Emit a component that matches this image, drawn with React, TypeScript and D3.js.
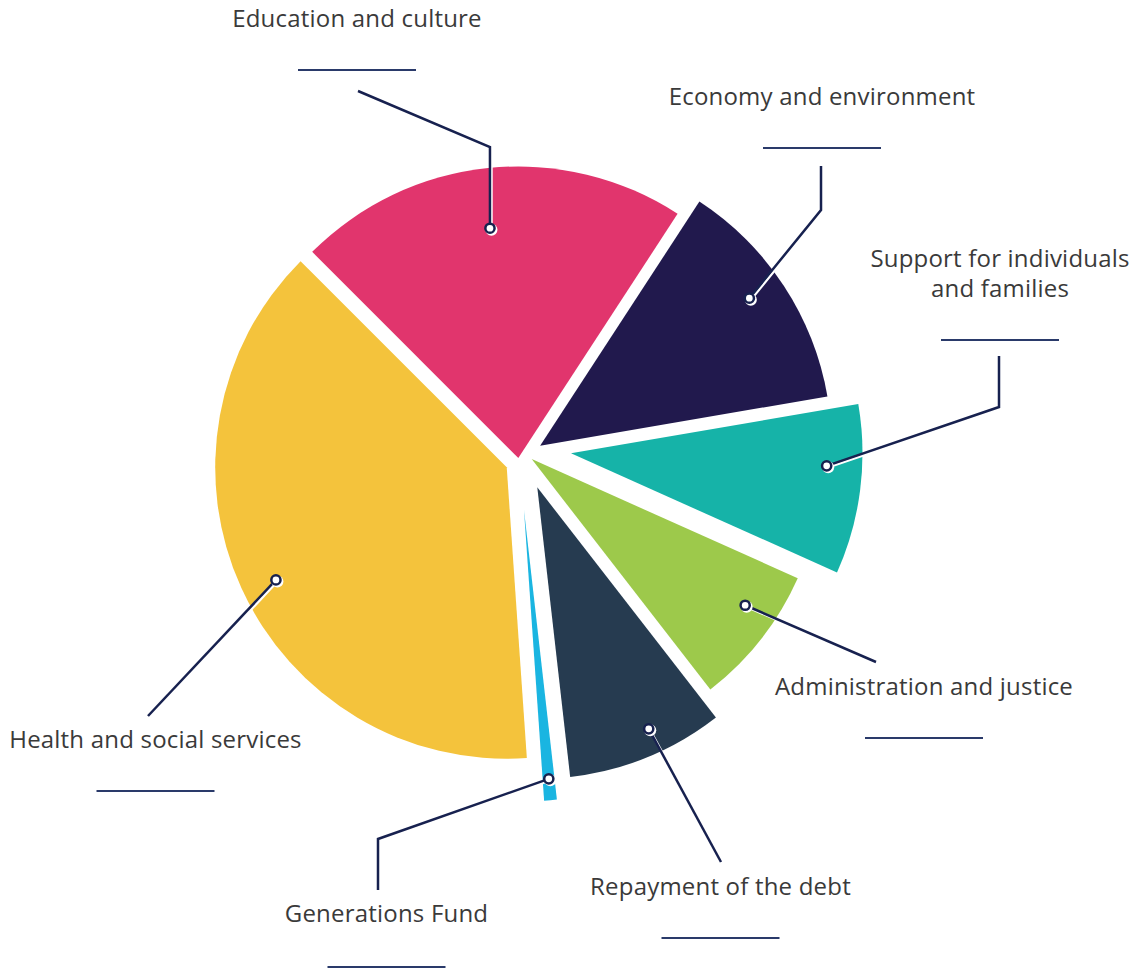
import React from "react";
import * as d3 from "d3";

// ---- Data ----
const categories: string[] = [
  "Education and culture",
  "Economy and environment",
  "Support for individuals and families",
  "Administration and justice",
  "Repayment of the debt",
  "Generations Fund",
  "Health and social services",
];
const shares: number[] = [21.7, 13.1, 9.4, 7.8, 8.7, 0.7, 38.6];
const labelLines: string[][] = [
  ["Education and culture"],
  ["Economy and environment"],
  ["Support for individuals", "and families"],
  ["Administration and justice"],
  ["Repayment of the debt"],
  ["Generations Fund"],
  ["Health and social services"],
];

// ---- Styles / layout ----
const W = 1135;
const H = 968;
const CX = 518;
const CY = 455;
const R = 291.5;
const COLORS = ["#e1356d", "#21194d", "#16b3a8", "#9dc94b", "#263b50", "#1ab5e1", "#f4c33c"];
const NAVY = "#17214f";
const TEXT = "#3a3a3a";
const EXPLODE = [-3, 24, 53, 14.3, 37.6, 55.3, 16.7];
const TILT = [0, 10.5, -9, -21.5, -8.7, -1, -23]; // degrees deviation of explode direction
const MARKER = [
  { f: 0.486, r: 231.5 },
  { f: 0.46, r: 256 },
  { f: 0.37, r: 256 },
  { f: 0.366, r: 258.7 },
  { f: 0.416, r: 266 },
  { f: 0.48, r: 270 },
  { f: 0.489, r: 256.8 },
];
// label: center x, first baseline y, underline y; leader: elbow points (vx = vertical from marker to y)
const LABELS = [
  { x: 357, y: 27, ul: 70, leader: [{ vx: true, y: 147 }, { x: 358, y: 91 }] },
  { x: 822, y: 105, ul: 148, leader: [{ x: 821, y: 210 }, { x: 821, y: 166 }] },
  { x: 1000, y: 267, ul: 340, leader: [{ x: 999, y: 407 }, { x: 999, y: 356 }] },
  { x: 924, y: 695, ul: 738, leader: [{ x: 876, y: 662 }] },
  { x: 720.5, y: 895, ul: 938, leader: [{ x: 721, y: 862 }] },
  { x: 386.5, y: 922, ul: 967, leader: [{ x: 378, y: 839 }, { x: 378, y: 890 }] },
  { x: 155.5, y: 748, ul: 791, leader: [{ x: 148, y: 716 }] },
];
const FONT = "'Open Sans', 'Noto Sans', sans-serif";
const FONT_SIZE = 24;
const LETTER_SPACING = 0.2;
const LINE_GAP = 30;
const UL_W = 118;

export default function App() {
  const pie = d3
    .pie<number>()
    .sort(null)
    .value((d) => d)
    .startAngle(-Math.PI / 4)
    .endAngle(2 * Math.PI - Math.PI / 4);
  const arcs = pie(shares);
  const arcGen = d3.arc<d3.PieArcDatum<number>>().innerRadius(0).outerRadius(R);

  const slices = arcs.map((a, i) => {
    const mid = (a.startAngle + a.endAngle) / 2 + (TILT[i] * Math.PI) / 180;
    const dx = EXPLODE[i] * Math.sin(mid);
    const dy = -EXPLODE[i] * Math.cos(mid);
    const ox = CX + dx;
    const oy = CY + dy;
    const ma = a.startAngle + (a.endAngle - a.startAngle) * MARKER[i].f;
    const mx = ox + MARKER[i].r * Math.sin(ma);
    const my = oy - MARKER[i].r * Math.cos(ma);
    return { a, ox, oy, mx, my };
  });

  const lineGen = d3.line<[number, number]>();

  const leaders = slices.map((s, i) => {
    const pts: [number, number][] = [[s.mx, s.my]];
    LABELS[i].leader.forEach((p: any) => {
      if (p.vx) pts.push([s.mx, p.y]);
      else pts.push([p.x, p.y]);
    });
    return lineGen(pts) as string;
  });

  return (
    <svg
      width={W}
      height={H}
      viewBox={`0 0 ${W} ${H}`}
      style={{ position: "absolute", left: 0, top: 0, background: "#fff" }}
    >
      <g>
        {slices.map((s, i) => (
          <path
            key={categories[i]}
            d={arcGen(s.a) as string}
            transform={`translate(${s.ox},${s.oy})`}
            fill={COLORS[i]}
          />
        ))}
      </g>
      <g fill="none" strokeLinejoin="miter">
        {leaders.map((d, i) => (
          <path key={"sh" + i} d={d} stroke="#ffffff" strokeWidth={2.5} transform="translate(1.5,1.5)" />
        ))}
        {leaders.map((d, i) => (
          <path key={"ld" + i} d={d} stroke={NAVY} strokeWidth={2.5} />
        ))}
      </g>
      <g>
        {slices.map((s, i) => (
          <g key={"m" + i}>
            <circle cx={s.mx + 1.5} cy={s.my + 1.5} r={6} fill="#ffffff" />
            <circle cx={s.mx} cy={s.my} r={4.6} fill="rgba(255,255,255,0.75)" stroke={NAVY} strokeWidth={2.5} />
          </g>
        ))}
      </g>
      <g fontFamily={FONT} fontSize={FONT_SIZE} fill={TEXT} textAnchor="middle" letterSpacing={LETTER_SPACING}>
        {LABELS.map((l, i) => (
          <g key={"t" + i}>
            <text x={l.x} y={l.y}>
              {labelLines[i].map((ln, j) => (
                <tspan key={j} x={l.x} y={l.y + j * LINE_GAP}>
                  {ln}
                </tspan>
              ))}
            </text>
            <line x1={l.x - UL_W / 2} x2={l.x + UL_W / 2} y1={l.ul} y2={l.ul} stroke="#2a3a6a" strokeWidth={2} />
          </g>
        ))}
      </g>
    </svg>
  );
}
